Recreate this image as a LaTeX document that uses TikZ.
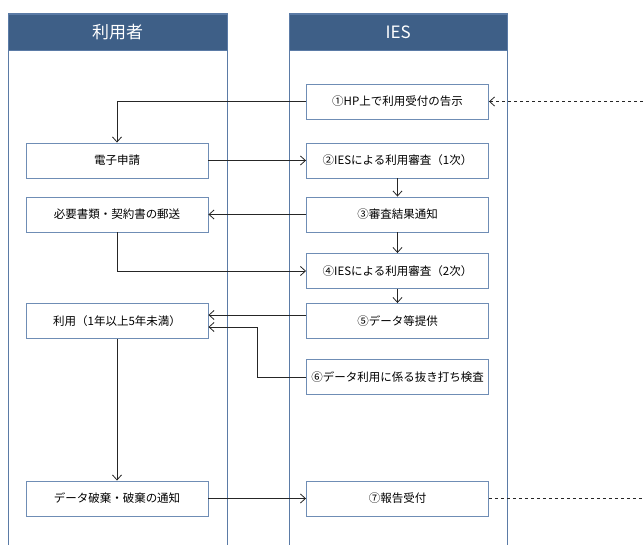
\documentclass[tikz,border=0pt]{standalone}
\usepackage{fontspec}
\setmainfont{Noto Sans CJK JP}
\usetikzlibrary{arrows.meta}
\definecolor{hdr}{HTML}{3E5F87}
\definecolor{lane}{HTML}{5B7BA6}
\definecolor{bx}{HTML}{6F8DB5}
\tikzset{
  hdrbox/.style={draw=lane, fill=hdr, text=white, font=\fontsize{17}{17}\selectfont, minimum height=36pt, anchor=north west, inner sep=0pt},
  lanebox/.style={draw=lane, line width=1pt},
  procbox/.style={draw=bx, line width=0.9pt, fill=white, minimum width=182pt, minimum height=35pt, inner sep=0pt, font=\fontsize{11.5}{12}\selectfont},
  arr/.style={draw=black!85, line width=0.8pt, -{Straight Barb[length=5pt,width=9pt]}},
  ln/.style={draw=black!85, line width=0.8pt},
  dsh/.style={draw=black!85, line width=0.8pt, dash pattern=on 3pt off 3pt}
}
\begin{document}
\begin{tikzpicture}[x=1pt,y=-1pt]
\useasboundingbox (0,0) rectangle (643,545);
% lanes
\draw[lanebox] (8,14) rectangle (227,560);
\draw[lanebox] (289,14) rectangle (507,560);
\node[hdrbox, minimum width=219pt] (h1) at (8,14) {利用者};
\node[hdrbox, minimum width=218pt] (h2) at (289,14) {IES};
% boxes
\node[procbox] (b1) at (397.5,101.5) {①HP上で利用受付の告示};
\node[procbox] (b2) at (397.5,160.5) {②IESによる利用審査（1次）};
\node[procbox] (b3) at (397.5,214.5) {③審査結果通知};
\node[procbox] (b4) at (397.5,271) {④IESによる利用審査（2次）};
\node[procbox] (b5) at (397.5,321) {⑤データ等提供};
\node[procbox] (b6) at (397.5,377) {⑥データ利用に係る抜き打ち検査};
\node[procbox] (b7) at (397.5,498.5) {⑦報告受付};
\node[procbox] (u1) at (117,160.5) {電子申請};
\node[procbox] (u2) at (117,214.5) {必要書類・契約書の郵送};
\node[procbox] (u3) at (117,321) {利用（1年以上5年未満）};
\node[procbox] (u4) at (117,498.5) {データ破棄・破棄の通知};
\coordinate (e1) at (643,101.5);
\coordinate (e7) at (643,498.5);
\coordinate (k6) at (257,377);
% connectors
\draw[dsh, -{Straight Barb[length=5pt,width=9pt]}] (e1) -- (b1.east);
\draw[arr] (b1.west) -| (u1.north);
\draw[arr] (u1.east) -- (b2.west);
\draw[arr] (b2.south) -- (b3.north);
\draw[arr] (b3.west) -- (u2.east);
\draw[arr] (b3.south) -- (b4.north);
\draw[arr] (u2.south) |- (b4.west);
\draw[arr] (b4.south) -- (b5.north);
\draw[arr] ([yshift=6pt]b5.west) -- ([yshift=6pt]u3.east);
\draw[arr] (b6.west) -- (k6) |- ([yshift=-6pt]u3.east);
\draw[arr] (u3.south) -- (u4.north);
\draw[arr] (u4.east) -- (b7.west);
\draw[dsh] (b7.east) -- (e7);
\end{tikzpicture}
\end{document}
